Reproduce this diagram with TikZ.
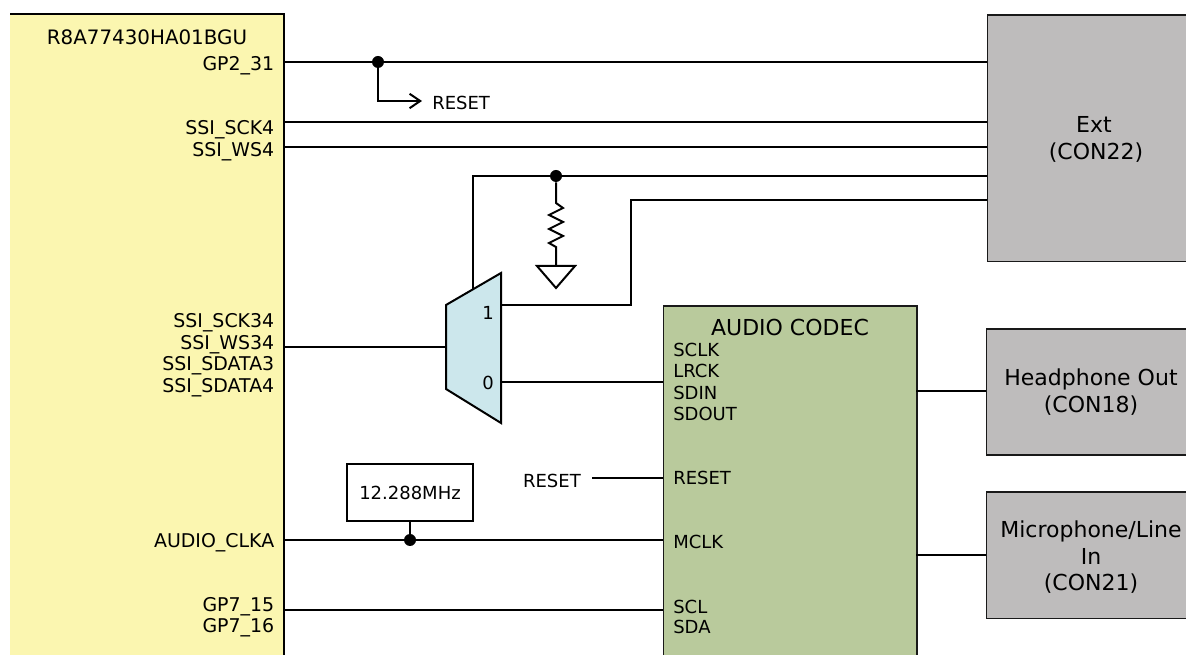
\documentclass[tikz,border=0pt]{standalone}
\usepackage{fontspec}
\setmainfont{DejaVu Sans}
\usetikzlibrary{arrows.meta}
\definecolor{socyellow}{HTML}{FBF6B0}
\definecolor{muxblue}{HTML}{CCE7EC}
\definecolor{codecgreen}{HTML}{B9CA9C}
\definecolor{congray}{HTML}{BEBCBC}
\tikzset{
  wire/.style={line width=1.5pt},
  dot/.style={circle,fill=black,inner sep=0pt,minimum size=9pt},
  pinr/.style={anchor=base east,inner sep=0pt,yshift=-1.1pt,font=\fontsize{14.2pt}{16pt}\selectfont},
  pinl/.style={anchor=base west,inner sep=0pt,yshift=-1.1pt},
  plain/.style={anchor=base,inner sep=0pt,yshift=-1.1pt},
  contxt/.style={anchor=base,inner sep=0pt,yshift=-1.1pt,font=\fontsize{16.5pt}{18pt}\selectfont},
  conbox/.style={anchor=north west,fill=congray,draw=black!90,line width=1.3pt,inner sep=0pt},
}
\begin{document}
\begin{tikzpicture}[x=0.75pt,y=-0.75pt,font=\fontsize{13.5pt}{15pt}\selectfont,line cap=butt,>={Straight Barb[length=2.8mm,width=3.8mm]}]
\useasboundingbox (0,0) rectangle (1186,655);
\node[anchor=north west,fill=socyellow,inner sep=0pt,minimum width=205pt,minimum height=520pt] (soc) at (10,14) {};
\draw[wire] (soc.north west) -- (soc.north east) -- (soc.south east);
\node[anchor=north west,fill=codecgreen,draw=black!90,line width=1.3pt,inner sep=0pt,minimum width=190pt,minimum height=300pt] (codec) at (662.5,305) {};
\node[conbox,minimum width=240pt,minimum height=185pt] (ext) at (986.5,14) {};
\node[conbox,minimum width=240pt,minimum height=94.5pt] (hp) at (985.5,328) {};
\node[conbox,minimum width=240pt,minimum height=95pt] (mic) at (985.5,491) {};
\node[contxt] (exttxt) at (1094,131) {Ext};
\node[contxt] (extcon) at (1096,158) {(CON22)};
\node[contxt] (hptxt) at (1091,384) {Headphone Out};
\node[contxt] (hpcon) at (1091,411) {(CON18)};
\node[contxt] (mictxt) at (1091,536) {Microphone/Line};
\node[contxt] (micin) at (1091,563) {In};
\node[contxt] (miccon) at (1091,589) {(CON21)};
\node[plain,font=\fontsize{14.9pt}{16pt}\selectfont] (soctxt) at (147,43) {R8A77430HA01BGU};
\node[contxt] (codectxt) at (790,334) {AUDIO CODEC};
% soc pins
\node[pinr] (gptwo) at (274.5,69) {GP2\_31};
\node[pinr] (sckfour) at (274.5,133) {SSI\_SCK4};
\node[pinr] (wsfour) at (274.5,155) {SSI\_WS4};
\node[pinr] (sckthree) at (274.5,326) {SSI\_SCK34};
\node[pinr] (wsthree) at (274.5,348) {SSI\_WS34};
\node[pinr] (sdthree) at (274.5,369) {SSI\_SDATA3};
\node[pinr] (sdfour) at (274.5,391) {SSI\_SDATA4};
\node[pinr] (clka) at (274.5,546) {AUDIO\_CLKA};
\node[pinr] (gpsa) at (274.5,610) {GP7\_15};
\node[pinr] (gpsb) at (274.5,631) {GP7\_16};
% codec pins
\node[pinl] (sclk) at (673,355) {SCLK};
\node[pinl] (lrck) at (673,376) {LRCK};
\node[pinl] (sdin) at (673,398) {SDIN};
\node[pinl] (sdout) at (673,419) {SDOUT};
\node[pinl] (rstpin) at (673,483) {RESET};
\node[pinl] (mclk) at (673,547) {MCLK};
\node[pinl] (scl) at (673,612) {SCL};
\node[pinl] (sda) at (673,632) {SDA};
% mux
\coordinate (muxlt) at (446,305);
\coordinate (muxrt) at (501,273);
\coordinate (muxrb) at (501,423);
\coordinate (muxlb) at (446,389);
\fill[muxblue] (muxlt) -- (muxrt) -- (muxrb) -- (muxlb) -- cycle;
\draw[wire,line join=miter] (muxlt) -- (muxrt) -- (muxrb) -- (muxlb) -- cycle;
\node[plain] (muxa) at (488,318) {1};
\node[plain] (muxb) at (488,388) {0};
% wires to ext
\coordinate (gpw) at (284,62);
\coordinate (sckw) at (284,122.5);
\coordinate (wsw) at (284,147.5);
\coordinate (muxin) at (446,347);
\coordinate (muxsel) at (473,289);
\coordinate (muxtop) at (473,176);
\coordinate (muxone) at (501,305);
\coordinate (bend) at (631,200);
\coordinate (muxzero) at (501,382);
\draw[wire] (gpw) -- (ext.west |- gpw);
\draw[wire] (sckw) -- (ext.west |- sckw);
\draw[wire] (wsw) -- (ext.west |- wsw);
\draw[wire] (muxsel) -- (muxtop) -- (ext.west |- muxtop);
\draw[wire] (muxone) -| (bend) -- (ext.west |- bend);
\draw[wire] (muxzero) -- (codec.west |- muxzero);
\coordinate (muxinw) at (284,347);
\draw[wire] (muxinw) -- (muxin);
% reset tap
\node[dot] (gpdot) at (378,62) {};
\node[plain,anchor=base west] (rstout) at (432,108) {RESET};
\coordinate (rstend) at (422,101);
\draw[wire,->] (gpdot) |- (rstend);
% pull down
\node[dot] (pulldot) at (556,176) {};
\coordinate (rtop) at (556,203);
\coordinate (rbot) at (556,247);
\coordinate (gndtop) at (556,266);
\coordinate (gndl) at (537,266);
\coordinate (gndr) at (575,266);
\coordinate (gndtip) at (556,288);
\draw[wire] (pulldot) -- (rtop) -- (563,208) -- (549,215) -- (563,222) -- (549,229) -- (563,236) -- (549,243) -- (rbot) -- (gndtop);
\draw[wire,line join=miter] (gndl) -- (gndr) -- (gndtip) -- cycle;
% clock
\node[draw,line width=1.3pt,inner sep=0pt,minimum width=94.5pt,minimum height=42.5pt] (xtal) at (410,492.5) {12.288MHz};
\coordinate (clkw) at (284,540);
\node[dot] (clkdot) at (410,540) {};
\draw[wire] (clkw) -- (codec.west |- clkw);
\draw[wire] (xtal) -- (clkdot);
\coordinate (i2cw) at (284,610);
\draw[wire] (i2cw) -- (codec.west |- i2cw);
% reset in
\node[plain,anchor=base east] (rstin) at (581,486) {RESET};
\coordinate (rstw) at (592,478);
\draw[wire] (rstw) -- (codec.west |- rstw);
% outputs
\coordinate (hpw) at (916,391);
\coordinate (micw) at (916,555);
\draw[wire] (hpw) -- (hp.west |- hpw);
\draw[wire] (micw) -- (mic.west |- micw);
\end{tikzpicture}
\end{document}
